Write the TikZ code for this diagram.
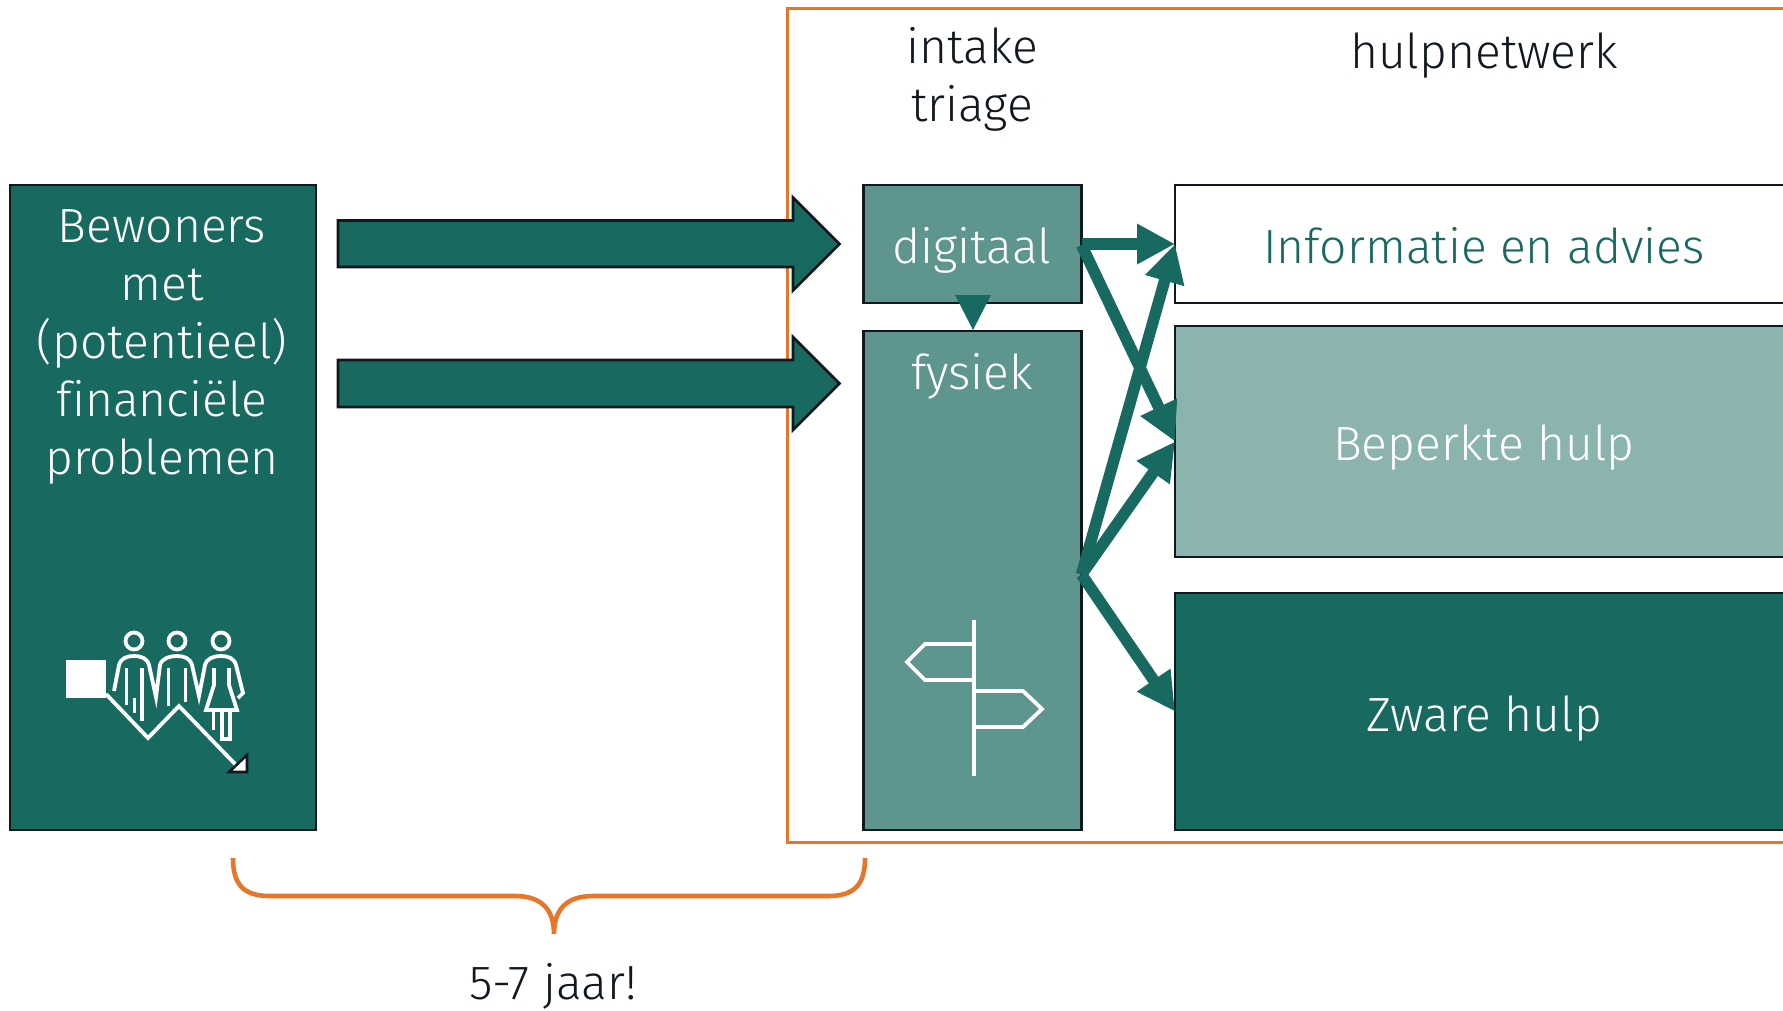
\documentclass[tikz,border=0pt]{standalone}
\usepackage{fontspec}
\setmainfont{Fira Sans Light}[Ligatures=NoCommon]
\usetikzlibrary{arrows.meta}
\definecolor{dk}{HTML}{186A60}
\definecolor{md}{HTML}{5E968F}
\definecolor{lt}{HTML}{8CB4AF}
\definecolor{org}{HTML}{E8762A}
\definecolor{ink}{HTML}{11181F}
\tikzset{
 box/.style={draw=ink,line width=2.8pt,inner sep=0pt,outer sep=0pt,anchor=north west},
 lbl/.style={font=\fontsize{48}{58}\selectfont,align=center,inner sep=0pt,text=#1},
 lbl/.default=white,
 conn/.style={draw=dk,line width=11.5pt,-{Triangle[length=38pt,width=38pt]},shorten >=0pt},
 blockarrow/.style={fill=dk,draw=ink,line width=2.6pt,miter limit=10},
 icon/.style={draw=white,line width=3.8pt,line join=miter},
}
\begin{document}
\begin{tikzpicture}[x=1pt,y=-1pt]
\useasboundingbox (0,0) rectangle (1783,1010);
\fill[white] (0,0) rectangle (1783,1010);
% orange frame
\draw[org,line width=3pt] (1800,8) -- (787,8) -- (787,842) -- (1800,842);
% boxes
\node[box,fill=dk,minimum width=306pt,minimum height=645pt] (bew) at (10,185) {};
\node[box,fill=md,minimum width=218pt,minimum height=118pt] (dig) at (863.5,185) {};
\node[box,fill=md,minimum width=218pt,minimum height=499pt] (fys) at (863.5,331) {};
\node[box,fill=white,minimum width=618pt,minimum height=118pt] (inf) at (1175,185) {};
\node[box,fill=lt,minimum width=618pt,minimum height=231pt] (bep) at (1175,326) {};
\node[box,fill=dk,minimum width=618pt,minimum height=237pt] (zwa) at (1175,593) {};
% labels
\node[lbl] (tbew) at (162,347) {Bewoners\\met\\(potentieel)\\financiële\\problemen};
\node[lbl] (tdig) at (972,250) {digitaal};
\node[lbl] (tfys) at (972,376) {fysiek};
\node[lbl=dk] (tinf) at (1484,246) {Informatie en advies};
\node[lbl] (tbep) at (1484,448) {Beperkte hulp};
\node[lbl] (tzwa) at (1484,719) {Zware hulp};
\node[lbl=ink] (tint) at (972,79) {intake\\triage};
\node[lbl=ink] (thulp) at (1484,56) {hulpnetwerk};
\node[lbl=ink] (tjaar) at (553,986) {5-7 jaar!};
% block arrows
\draw[blockarrow] (338,220.5) -- (793,220.5) -- (793,197.5) -- (839.5,244) -- (793,290.5) -- (793,267) -- (338,267) -- cycle;
\draw[blockarrow] (338,360) -- (793,360) -- (793,337) -- (839.5,383.5) -- (793,430) -- (793,407) -- (338,407) -- cycle;
% small triangle
\fill[dk] (955,295) -- (991,295) -- (973,330) -- cycle;
% connectors
\draw[conn] (dig.east) -- (inf.west);
\draw[conn] ([yshift=-1pt]dig.east) -- (bep.west);
\draw[conn] ([yshift=6pt]fys.east) -- (inf.west);
\draw[conn] ([yshift=6pt]fys.east) -- (bep.west);
\draw[conn] ([yshift=6pt]fys.east) -- (zwa.west);
% brace
\draw[org,line width=4.6pt] (233,858) .. controls (233,884) and (243,896) .. (270,896) -- (515,896)
  .. controls (542,896) and (554,910) .. (554,934) .. controls (554,910) and (566,896) .. (593,896)
  -- (828,896) .. controls (855,896) and (865,884) .. (865,858);
% people icon
\begin{scope}[icon]
\draw (134,641) circle (8.5pt) (177,641) circle (8.5pt) (221,641) circle (8.5pt);
\draw (114,691) -- (119,665) .. controls (121,658) and (127,656) .. (134,656) .. controls (141,656) and (147,658) .. (149,665) -- (156,697)
      -- (160,665) .. controls (162,658) and (170,656) .. (177,656) .. controls (184,656) and (190,658) .. (192,665) -- (199,696)
      -- (205,665) .. controls (207,658) and (214,656) .. (221,656) .. controls (228,656) and (234,658) .. (236,665) -- (243,693) -- (238,698);
\draw (126.5,668) -- (126.5,705) (142,668) -- (142,721) (134.5,698) -- (134.5,713);
\draw (168.5,668) -- (168.5,706) (185.5,668) -- (185.5,702);
\draw (214,668) -- (214,685) -- (206,710) -- (237,710) -- (229,685) -- (229,668);
\draw (213.5,710) -- (213.5,730) (222,710) -- (222,739) -- (230,739) -- (230,710);
\end{scope}
\fill[white] (66,660) rectangle (106,698);
\draw[icon] (106,694) -- (148,738) -- (179,706) -- (237,766);
\draw[fill=white,draw=ink,line width=2.6pt] (247,755) -- (247,772) -- (229,772) -- cycle;
% signpost
\begin{scope}[icon]
\draw (974,620) -- (974,776);
\draw (974,644) -- (925,644) -- (907,662) -- (925,680) -- (974,680);
\draw (974,691) -- (1023,691) -- (1042,709) -- (1023,727) -- (974,727);
\end{scope}
\end{tikzpicture}
\end{document}
